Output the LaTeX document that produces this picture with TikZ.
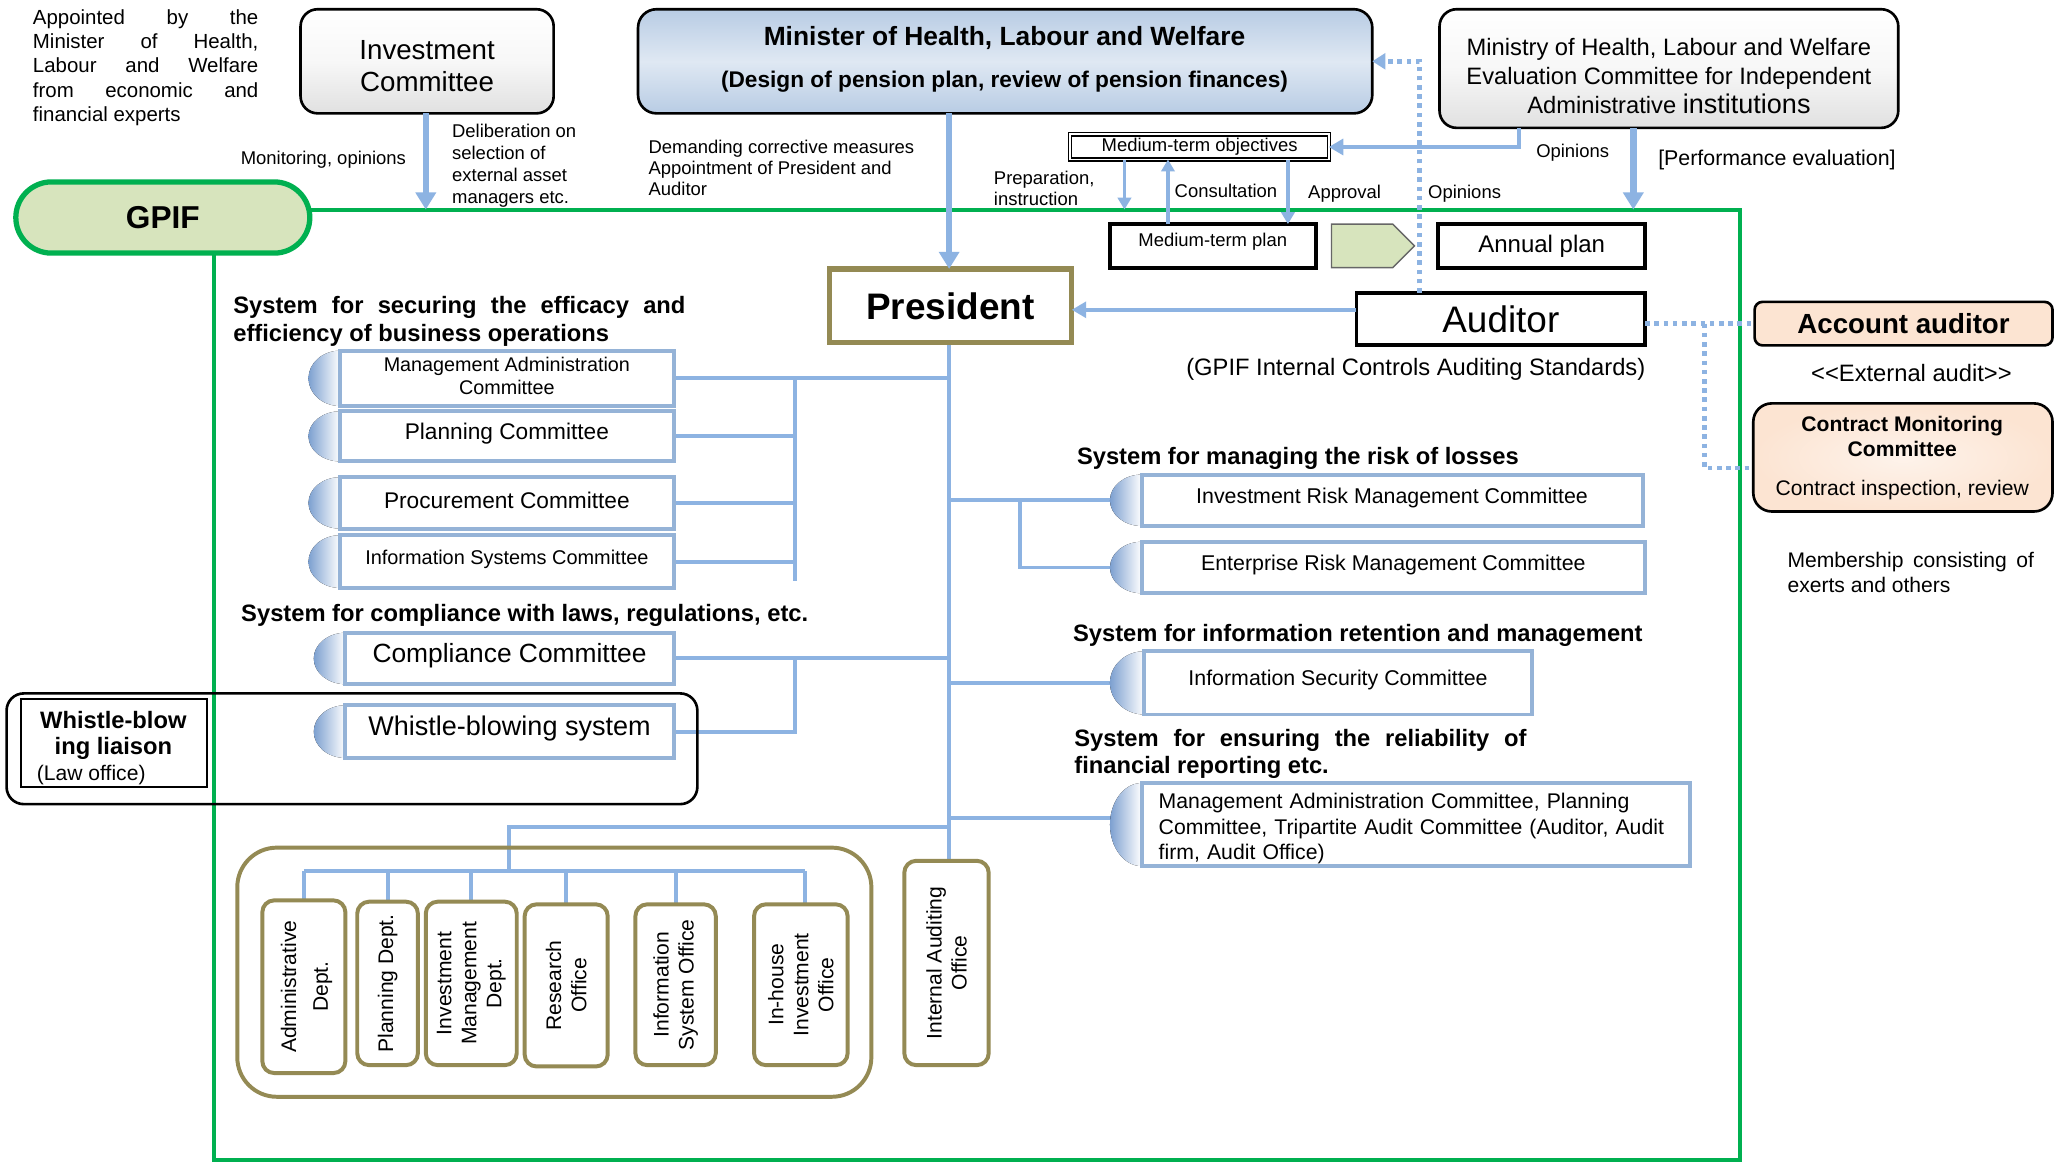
\documentclass[tikz,border=0pt]{standalone}
\usepackage{fontspec}
\setmainfont{Liberation Sans}
\usetikzlibrary{arrows.meta,shapes.symbols}
\pgfdeclarelayer{bg}
\pgfsetlayers{bg,main}
\definecolor{lblue}{RGB}{141,179,226}
\definecolor{cbord}{RGB}{149,179,215}
\definecolor{capblue}{RGB}{125,160,208}
\definecolor{olive}{RGB}{148,138,84}
\definecolor{gpgreen}{RGB}{0,176,80}
\definecolor{lgreen}{RGB}{215,228,189}
\definecolor{peach}{RGB}{252,228,210}
\definecolor{minblue}{RGB}{184,204,228}
\newcommand\fsz[2]{\fontsize{#1}{#2}\selectfont}
% committee box: name, cap x, rect x, right x, top, bottom, font size, text
\newcommand\cmt[8]{%
  \fill[left color=capblue, right color=white, middle color=white]
    (#3,{(#5+#6)/2}) ellipse [x radius={(#3-#2)*1pt}, y radius={(#6-#5)/2*1pt}];
  \node[cbox, anchor=north west, minimum width={(#4-#3)*1pt}, minimum height={(#6-#5)*1pt}] (#1) at (#3,#5) {};
  \node[font=\fsz{#7}{17.5}, align=center, yshift=2pt] (#1t) at (#1.center) {#8};
}
\begin{document}
\begin{tikzpicture}[x=1pt,y=-1pt,
  every node/.style={inner sep=0pt, outer sep=0pt},
  conn/.style={draw=lblue, line width=3pt},
  arr/.style={draw=lblue, line width=5pt, -{Triangle[length=13pt,width=15pt]}},
  marr/.style={draw=lblue, line width=3pt, -{Triangle[length=11pt,width=12pt]}},
  sarr/.style={draw=lblue, line width=2.5pt, -{Triangle[length=9pt,width=10pt]}},
  dotl/.style={draw=lblue, line width=3.5pt, dash pattern=on 3.5pt off 3.5pt},
  dotarr/.style={dotl, -{Triangle[length=10pt,width=12pt]}},
  cbox/.style={draw=cbord, line width=3pt, fill=white},
  kbox/.style={draw=black, line width=3pt, fill=white},
  obox/.style={draw=olive, line width=3pt, rounded corners=9pt, fill=white},
  gbox/.style={draw=black, line width=2pt, rounded corners=13pt, top color=white, bottom color=black!12, middle color=black!3},
  lbl/.style={font=\fsz{14}{16.5}, align=left},
  head/.style={font=\bfseries\fsz{18}{21}},
  dtext/.style={rotate=90, align=center, font=\fsz{16}{19}},
]
\useasboundingbox (0,0) rectangle (1568,881);
\begin{pgfonlayer}{bg}
  \fill[white] (0,0) rectangle (1568,881);
\end{pgfonlayer}

% ---------- top row ----------
\node[anchor=north west, text width=171pt, align=justify, font=\fsz{15.5}{18.5}] (appt) at (25,7)
  {Appointed by the\linebreak Minister of Health,\linebreak Labour and Welfare\linebreak from economic and\linebreak financial experts};

\node[gbox, minimum width=192pt, minimum height=79pt, anchor=north west] (ic) at (228,7) {};
\node[align=center, font=\fsz{21}{24}] (ict) at (324,50) {Investment\\Committee};

\node[draw=black, line width=2pt, rounded corners=14pt, top color=minblue, bottom color=minblue, middle color=white!55!minblue,
      minimum width=557pt, minimum height=79pt, anchor=north west] (min) at (484,7) {};
\node[font=\bfseries\fsz{20}{20}] (mint1) at (762,29) {Minister of Health, Labour and Welfare};
\node[font=\bfseries\fsz{17.2}{17.2}] (mint2) at (762,62) {(Design of pension plan, review of pension finances)};

\node[gbox, minimum width=348pt, minimum height=90pt, anchor=north west] (mev) at (1092,7) {};
\node[align=center, font=\fsz{18}{22}] (mevt) at (1266,58) {Ministry of Health, Labour and Welfare\\Evaluation Committee for Independent\\Administrative {\fsz{20.5}{22}institutions}};

% ---------- labels ----------
\node[anchor=east, font=\fsz{14}{14}] (lmon) at (308,121) {Monitoring, opinions};
\node[lbl, anchor=north west, font=\fsz{14}{16.8}] (ldel) at (343,94) {Deliberation on\\selection of\\external asset\\managers etc.};
\node[lbl, anchor=north west, font=\fsz{14}{16}] (ldem) at (492,106) {Demanding corrective measures\\Appointment of President and\\Auditor};
\node[lbl, anchor=north west, font=\fsz{14}{16}] (lprep) at (754,130) {Preparation,\\instruction};
\node[font=\fsz{14}{14}] (lcons) at (930,145) {Consultation};
\node[font=\fsz{14}{14}] (lappr) at (1020,147) {Approval};
\node[font=\fsz{14}{14}] (lop1) at (1111,147) {Opinions};
\node[font=\fsz{14}{14}] (lop2) at (1193,116) {Opinions};
\node[font=\fsz{16.2}{16.2}] (lperf) at (1348,121) {[Performance evaluation]};

% ---------- GPIF ----------
\node[draw=gpgreen, line width=4pt, fill=lgreen, rounded corners=27pt, minimum width=223pt, minimum height=54pt,
      anchor=north west, font=\bfseries\fsz{24}{24}] (gpif) at (12,138) {GPIF};
\coordinate (fr1) at (200,159);
\coordinate (fr2) at (1320,159);
\coordinate (fr3) at (1320,880);
\coordinate (fr4) at (162,880);
\coordinate (fr5) at (162,185);
\begin{pgfonlayer}{bg}
  \draw[gpgreen, line width=3pt] (fr1) -- (fr2) -- (fr3) -- (fr4) -- (fr5);
\end{pgfonlayer}

% ---------- plans ----------
\node[draw=black, double, double distance=1.5pt, line width=0.8pt, fill=white, minimum width=196pt, minimum height=19pt,
      anchor=north west, font=\fsz{14}{14}] (mto) at (812,102) {Medium-term objectives};
\node[kbox, minimum width=156pt, minimum height=33pt, anchor=north west] (mtp) at (842,170) {};
\node[font=\fsz{14}{14}] (mtpt) at (920,183) {Medium-term plan};
\node[signal, signal to=east, draw=black!60, line width=1pt, fill=lgreen, minimum width=63pt, minimum height=33pt, anchor=west] (pent) at (1010,186.5) {};
\node[kbox, minimum width=157pt, minimum height=33pt, anchor=north west, font=\fsz{18.2}{18.2}] (anp) at (1091,170) {Annual plan};

% ---------- president / auditor ----------
\node[draw=olive, line width=4pt, fill=white, minimum width=184pt, minimum height=56pt, anchor=north west,
      font=\bfseries\fsz{28}{28}] (pres) at (629,204) {President};
\node[kbox, minimum width=219pt, minimum height=40pt, anchor=north west, font=\fsz{28}{28}] (aud) at (1029,222) {Auditor};
\node[font=\fsz{18}{18}] (lstd) at (1074,280) {(GPIF Internal Controls Auditing Standards)};

\node[draw=black, line width=2pt, fill=peach, rounded corners=6pt, minimum width=226pt, minimum height=33pt, anchor=north west,
      font=\bfseries\fsz{21}{21}] (acc) at (1331,229) {Account auditor};
\node[font=\fsz{18}{18}] (lext) at (1450,283) {{<}{<}External audit{>}{>}};
\node[draw=black, line width=2pt, inner color=white!55!peach, outer color=peach, rounded corners=14pt,
      minimum width=227pt, minimum height=82pt, anchor=north west] (cmc) at (1330,306) {};
\node[align=center, font=\bfseries\fsz{16}{19}] (cmct1) at (1443,331) {Contract Monitoring\\Committee};
\node[font=\fsz{16}{16}] (cmct2) at (1443,372) {Contract inspection, review};
\node[anchor=north west, text width=187pt, align=justify, font=\fsz{16}{19}] (lmem) at (1356,419) {Membership consisting of\linebreak exerts and others};

% ---------- left systems ----------
\node[head, anchor=north west, text width=343pt, align=justify] (h1) at (177,225) {System for securing the efficacy and\linebreak efficiency of business operations};
\cmt{mac}{234}{258}{511}{266}{308}{15}{Management Administration\\Committee}
\cmt{plc}{234}{258}{511}{312}{350}{17.2}{Planning Committee}
\cmt{prc}{234}{258}{511}{362}{401}{17.2}{Procurement Committee}
\cmt{isc}{234}{258}{511}{406}{446}{15.1}{Information Systems Committee}

\node[head, anchor=west] (h2) at (183,467) {System for compliance with laws, regulations, etc.};
\node[draw=black, line width=2pt, rounded corners=13pt, minimum width=524pt, minimum height=84pt, anchor=north west] (wbbox) at (5,526) {};
\cmt{cmp}{238}{262}{511}{480}{519}{20}{Compliance Committee}
\cmt{wbs}{238}{262}{511}{535}{575}{20.5}{Whistle-blowing system}
\node[draw=black, line width=1.5pt, fill=white, minimum width=141pt, minimum height=67pt, anchor=north west] (wbl) at (16,530) {};
\node[align=center, font=\bfseries\fsz{18}{20}] (wblt) at (86,558) {Whistle-blow\\ing liaison};
\node[anchor=west, font=\fsz{16}{16}] (wblt2) at (28,588) {(Law office)};

% ---------- right systems ----------
\node[head, anchor=west] (h3) at (817,348) {System for managing the risk of losses};
\cmt{irm}{842}{866}{1246}{360}{399}{16.2}{Investment Risk Management Committee}
\cmt{erm}{842}{866}{1248}{411}{450}{16.2}{Enterprise Risk Management Committee}
\node[head, anchor=west] (h4) at (814,482) {System for information retention and management};
\cmt{isec}{842}{868}{1162}{494}{542}{16.2}{Information Security Committee}
\node[head, anchor=north west, text width=343pt, align=justify] (h5) at (815,553) {System for ensuring the reliability of\linebreak financial reporting etc.};
\cmt{fin}{842}{866}{1282}{594}{657}{16.1}{}
\node[anchor=north west, text width=400pt, align=left, font=\fsz{16.1}{19}] (fint) at (879,602)
  {Management Administration Committee, Planning\\Committee, Tripartite Audit Committee (Auditor, Audit\\firm, Audit Office)};

% ---------- departments ----------
\node[draw=olive, line width=3pt, rounded corners=30pt, minimum width=481pt, minimum height=189pt, anchor=north west] (cont) at (180,643) {};
\node[obox, minimum width=63pt, minimum height=131pt, anchor=north west] (adm) at (199,683) {};
\node[obox, minimum width=46pt, minimum height=124pt, anchor=north west] (pln) at (271,684) {};
\node[obox, minimum width=69pt, minimum height=124pt, anchor=north west] (inv) at (323,684) {};
\node[obox, minimum width=63pt, minimum height=123pt, anchor=north west] (res) at (398,686) {};
\node[obox, minimum width=61pt, minimum height=122pt, anchor=north west] (inf) at (482,686) {};
\node[obox, minimum width=71pt, minimum height=122pt, anchor=north west] (ihi) at (572,686) {};
\node[obox, minimum width=64pt, minimum height=155pt, anchor=north west] (iao) at (686,653) {};
\node[dtext, font=\fsz{16}{24}] (admt) at ([xshift=2pt]adm.center) {Administrative\\Dept.};
\node[dtext] (plnt) at (pln.center) {Planning Dept.};
\node[dtext] (invt) at (inv.center) {Investment\\Management\\Dept.};
\node[dtext] (rest) at (res.center) {Research\\Office};
\node[dtext] (inft) at (inf.center) {Information\\System Office};
\node[dtext] (ihit) at (ihi.center) {In-house\\Investment\\Office};
\node[dtext] (iaot) at (iao.center) {Internal Auditing\\Office};

% ---------- connectors ----------
\coordinate (icx) at (323,159);
\coordinate (prepy) at (853,159);
\coordinate (mevy) at (1239,159);
\coordinate (br) at (1293,245.5);
\coordinate (jl) at (603,287);
\coordinate (jlb) at (603,441);
\coordinate (jr) at (774,380);
\coordinate (jb) at (720,627);
\coordinate (jd) at (386,661);
\coordinate (mv) at (720,260);

\draw[arr] (ic.south -| icx) -- (icx);
\draw[arr] (mv |- min.south) -- (pres.north -| mv);
\draw[marr] ([xshift=-114pt]mev.south) |- (mto.east);
\draw[arr] ([xshift=-27pt]mev.south) -- (mevy);
\draw[sarr] ([xshift=-57pt]mto.south) -- (prepy);
\draw[sarr] ([xshift=-34pt]mtp.north) -- ([xshift=-24pt]mto.south);
\draw[sarr] ([xshift=67pt]mto.south) -- ([xshift=57pt]mtp.north);
\draw[dotarr] ([xshift=-61.5pt]aud.north) |- (min.east);
\draw[marr] ([yshift=7pt]aud.west) -- ([yshift=-3pt]pres.east);
\draw[dotl] (aud.east |- acc.west) -- (acc.west);
\draw[dotl] (br) |- ([yshift=-8pt]cmc.west);

\begin{pgfonlayer}{bg}
  \draw[conn] (mv) -- (mv |- iao.north);
  \draw[conn] (mac.east) -- (mac.east -| mv);
  \draw[conn] (jl) -- (jlb);
  \foreach \c in {plc,prc,isc} \draw[conn] (\c.east) -- (\c.east -| jl);
  \draw[conn] (cmp.east) -- (cmp.east -| mv);
  \draw[conn] (cmp.east -| jl) |- (wbs.east);
  \draw[conn] (mv |- irm.west) -- (irm.west);
  \draw[conn] (jr) |- (erm.west);
  \draw[conn] (mv |- isec.west) -- (isec.west);
  \draw[conn] ([yshift=5pt]fin.west -| mv) -- ([yshift=5pt]fin.west);
  \draw[conn] (jb) -| (jd);
  \draw[conn] (adm.north |- jd) -- ([xshift=3pt]ihi.north |- jd);
  \foreach \d in {adm,pln,inv,res,inf} \draw[conn] (\d.north |- jd) -- (\d.north);
  \draw[conn] ([xshift=3pt]ihi.north |- jd) -- ([xshift=3pt]ihi.north);
\end{pgfonlayer}
\end{tikzpicture}
\end{document}
